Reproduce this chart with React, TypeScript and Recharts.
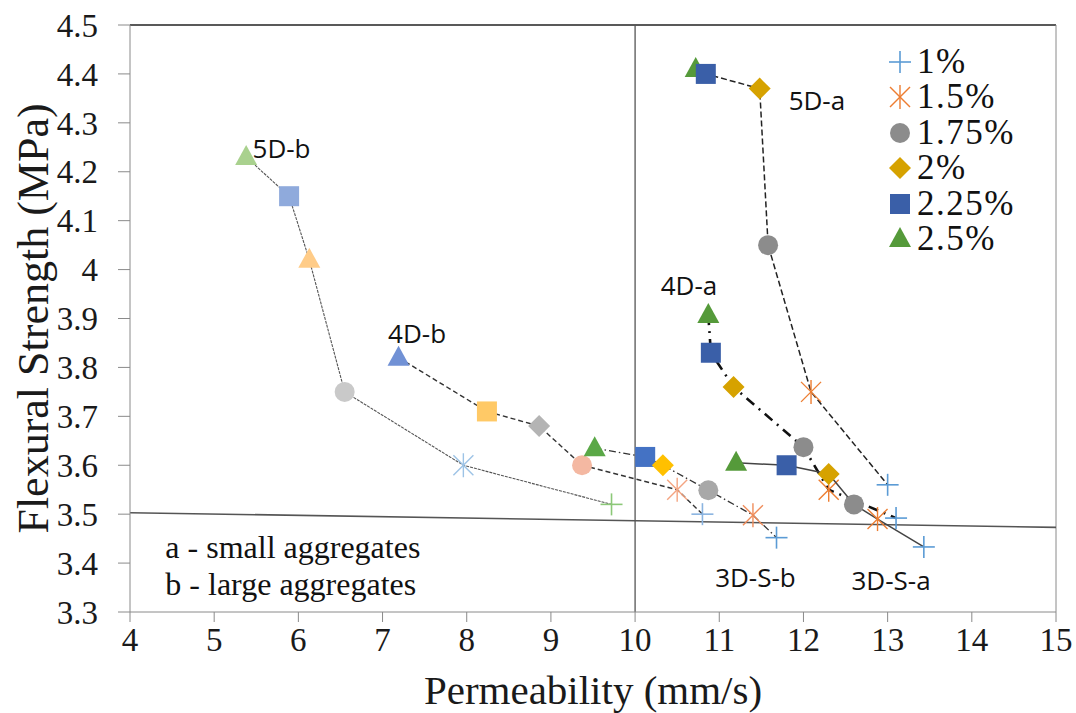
import React from "react";
import { ScatterChart, Scatter, XAxis, YAxis, ReferenceLine, ReferenceDot, Legend } from "recharts";

// fibre dosage of each point, same order inside every mix series
const DOSAGES = ["2.5%", "2.25%", "2%", "1.75%", "1.5%", "1%"];
const LEGEND_ITEMS = ["1%", "1.5%", "1.75%", "2%", "2.25%", "2.5%"];

const X_TICKS = [4, 5, 6, 7, 8, 9, 10, 11, 12, 13, 14, 15];
const Y_TICKS = [3.3, 3.4, 3.5, 3.6, 3.7, 3.8, 3.9, 4.0, 4.1, 4.2, 4.3, 4.4, 4.5];

// permeability (mm/s) and flexural strength (MPa) per mix
const perm5Da = [10.72, 10.84, 11.48, 11.58, 12.09, 13.0];
const flex5Da = [4.41, 4.4, 4.37, 4.05, 3.75, 3.56];

const perm4Da = [10.87, 10.9, 11.17, 12.0, 12.3, 13.1];
const flex4Da = [3.907, 3.83, 3.76, 3.637, 3.55, 3.492];

const perm3DSa = [11.2, 11.8, 12.3, 12.6, 12.88, 13.43];
const flex3DSa = [3.605, 3.6, 3.582, 3.52, 3.49, 3.433];

const perm5Db = [5.38, 5.89, 6.13, 6.55, 7.96, 9.72];
const flex5Db = [4.23, 4.15, 4.02, 3.75, 3.6, 3.52];

const perm4Db = [7.19, 8.24, 8.86, 9.37, 10.5, 10.8];
const flex4Db = [3.82, 3.71, 3.68, 3.6, 3.55, 3.5];

const perm3DSb = [9.52, 10.12, 10.33, 10.87, 11.4, 11.68];
const flex3DSb = [3.635, 3.617, 3.6, 3.549, 3.498, 3.452];

// series name labels and where they sit
const SERIES_LABELS = ["5D-b", "4D-b", "5D-a", "4D-a", "3D-S-b", "3D-S-a"];
const LABEL_X = [5.8, 7.41, 12.16, 10.64, 11.43, 13.04];
const LABEL_Y = [4.248, 3.87, 4.347, 3.968, 3.371, 3.365];

const NOTES = ["a - small aggregates", "b - large aggregates"];
const NOTE_X = [4.42, 4.42];
const NOTE_Y = [3.41, 3.334];

// marker looks
const SHAPE = { "1%": "plus", "1.5%": "star", "1.75%": "circle", "2%": "diamond", "2.25%": "square", "2.5%": "triangle" };
const COLOR = { "1%": "#5b9bd5", "1.5%": "#ed7d31", "1.75%": "#8c8c8c", "2%": "#d6a200", "2.25%": "#3a5fa8", "2.5%": "#559a3a" };
const BRIGHT = ["#5aa847", "#4472c4", "#ffc000", "#a8a8a8", "#f08c5a", "#5b9bd5"];
const FADED_5DB = [
  { shape: "triangle", color: "#a9d18e" },
  { shape: "square", color: "#8faadc" },
  { shape: "triangle", color: "#ffcc88" },
  { shape: "circle", color: "#c9c9c9" },
  { shape: "star", color: "#9dc3e6" },
  { shape: "plus", color: "#8cc878" },
];
const FADED_4DB = [
  { shape: "triangle", color: "#7191d5" },
  { shape: "square", color: "#ffc966" },
  { shape: "diamond", color: "#b4b4b4" },
  { shape: "circle", color: "#f4b8a2" },
  { shape: "star", color: "#f4a582" },
  { shape: "plus", color: "#8ab4e0" },
];

const SERIF = "Liberation Serif, Times New Roman, serif";
const SANS = "Open Sans, Noto Sans, sans-serif";

function build(xs: number[], ys: number[], look: (i: number) => { shape: string; color: string }) {
  return xs.map((x, i) => ({ x, y: ys[i], dosage: DOSAGES[i], ...look(i) }));
}

const byDosage = (i: number) => ({ shape: SHAPE[DOSAGES[i]], color: COLOR[DOSAGES[i]] });

const data5Da = build(perm5Da, flex5Da, byDosage);
const data4Da = build(perm4Da, flex4Da, byDosage);
const data3DSa = build(perm3DSa, flex3DSa, byDosage);
const data5Db = build(perm5Db, flex5Db, (i) => FADED_5DB[i]);
const data4Db = build(perm4Db, flex4Db, (i) => FADED_4DB[i]);
const data3DSb = build(perm3DSb, flex3DSb, (i) => ({ shape: SHAPE[DOSAGES[i]], color: BRIGHT[i] }));

function Marker({ cx, cy, shape, color }: { cx: number; cy: number; shape: string; color: string }) {
  if (cx == null || cy == null) return null;
  switch (shape) {
    case "plus":
      return (
        <g stroke={color} strokeWidth={1.6}>
          <line x1={cx - 11} y1={cy} x2={cx + 11} y2={cy} />
          <line x1={cx} y1={cy - 11} x2={cx} y2={cy + 11} />
        </g>
      );
    case "star":
      return (
        <g stroke={color} strokeWidth={1.4}>
          <line x1={cx - 10} y1={cy - 10} x2={cx + 10} y2={cy + 10} />
          <line x1={cx - 10} y1={cy + 10} x2={cx + 10} y2={cy - 10} />
          <line x1={cx} y1={cy - 12} x2={cx} y2={cy + 12} />
        </g>
      );
    case "circle":
      return <circle cx={cx} cy={cy} r={10} fill={color} />;
    case "diamond":
      return <polygon points={`${cx},${cy - 11} ${cx + 11},${cy} ${cx},${cy + 11} ${cx - 11},${cy}`} fill={color} />;
    case "square":
      return <rect x={cx - 10} y={cy - 10} width={20} height={20} fill={color} />;
    default:
      return <polygon points={`${cx},${cy - 12} ${cx + 11},${cy + 8} ${cx - 11},${cy + 8}`} fill={color} />;
  }
}

const renderPoint = (p: any) => <Marker cx={p.cx} cy={p.cy} shape={p.payload.shape} color={p.payload.color} />;

function LegendBox() {
  return (
    <div style={{ fontFamily: SERIF, fontSize: 35, letterSpacing: 1.5, color: "#111" }}>
      {LEGEND_ITEMS.map((d) => (
        <div key={d} style={{ display: "flex", alignItems: "center", height: 35.5 }}>
          <svg width={28} height={28} style={{ marginRight: 3 }}>
            <Marker cx={14} cy={14} shape={SHAPE[d]} color={COLOR[d]} />
          </svg>
          <span style={{ lineHeight: "32px" }}>{d}</span>
        </div>
      ))}
    </div>
  );
}

const seriesText = (value: string) => (props: any) => {
  const vb = props.viewBox || {};
  return (
    <text x={vb.x} y={vb.y} textAnchor="middle" dominantBaseline="central" fontFamily={SANS} fontSize={26} fill="#111">
      {value}
    </text>
  );
};

const noteText = (value: string) => (props: any) => {
  const vb = props.viewBox || {};
  return (
    <text x={vb.x} y={vb.y} textAnchor="start" fontFamily={SERIF} fontSize={32} fill="#111">
      {value}
    </text>
  );
};

export default function App() {
  return (
    <div>
      <style>{"body{margin:0;background:#fff}"}</style>
      <ScatterChart width={1076} height={713} margin={{ top: 25, right: 20, bottom: 0, left: 0 }}>
        <XAxis
          type="number"
          dataKey="x"
          domain={[4, 15]}
          ticks={X_TICKS}
          interval={0}
          allowDataOverflow
          height={101}
          stroke="#8a8a8a"
          tickSize={10}
          tickMargin={6}
          tick={{ fontSize: 33, fill: "#1a1a1a", fontFamily: SERIF }}
          label={{ value: "Permeability (mm/s)", position: "center", dy: 27, fontSize: 41, fill: "#1a1a1a", fontFamily: SERIF }}
        />
        <YAxis
          type="number"
          dataKey="y"
          domain={[3.3, 4.5]}
          ticks={Y_TICKS}
          interval={0}
          allowDataOverflow
          width={130}
          stroke="#8a8a8a"
          tickSize={12}
          tickMargin={20}
          tickFormatter={(v: number) => String(Number(v.toFixed(1)))}
          tick={{ fontSize: 33, fill: "#1a1a1a", fontFamily: SERIF }}
          label={{ value: "Flexural Strength (MPa)", position: "center", angle: -90, dx: -33, dy: 0, fontSize: 44, fill: "#1a1a1a", fontFamily: SERIF }}
        />
        <ReferenceLine y={4.5} stroke="#222" strokeWidth={1.5} />
        <ReferenceLine x={15} stroke="#8a8a8a" strokeWidth={1} />
        <ReferenceLine x={10} stroke="#555" strokeWidth={1.3} />
        <ReferenceLine segment={[{ x: 4, y: 3.503 }, { x: 15, y: 3.473 }]} stroke="#555" strokeWidth={1.6} />

        <Scatter data={data5Db} isAnimationActive={false} shape={renderPoint} line={{ stroke: "#555", strokeWidth: 1.1, strokeDasharray: "3 1" }} lineType="joint" />
        <Scatter data={data4Db} isAnimationActive={false} shape={renderPoint} line={{ stroke: "#333", strokeWidth: 1.4, strokeDasharray: "5 3" }} lineType="joint" />
        <Scatter data={data3DSb} isAnimationActive={false} shape={renderPoint} line={{ stroke: "#333", strokeWidth: 1.3, strokeDasharray: "7 3 1.5 3" }} lineType="joint" />
        <Scatter data={data5Da} isAnimationActive={false} shape={renderPoint} line={{ stroke: "#222", strokeWidth: 1.5, strokeDasharray: "6 3" }} lineType="joint" />
        <Scatter data={data4Da} isAnimationActive={false} shape={renderPoint} line={{ stroke: "#111", strokeWidth: 2.6, strokeDasharray: "10 6 2 6" }} lineType="joint" />
        <Scatter data={data3DSa} isAnimationActive={false} shape={renderPoint} line={{ stroke: "#444", strokeWidth: 1.5 }} lineType="joint" />

        {SERIES_LABELS.map((s, i) => (
          <ReferenceDot key={s} x={LABEL_X[i]} y={LABEL_Y[i]} r={0} fill="none" stroke="none" label={{ content: seriesText(s) }} />
        ))}
        {NOTES.map((n, i) => (
          <ReferenceDot key={n} x={NOTE_X[i]} y={NOTE_Y[i]} r={0} fill="none" stroke="none" label={{ content: noteText(n) }} />
        ))}

        <Legend
          layout="horizontal"
          verticalAlign="middle"
          align="center"
          content={() => <LegendBox />}
          wrapperStyle={{ top: 44, left: 886, width: 185, height: 220 }}
        />
      </ScatterChart>
    </div>
  );
}
